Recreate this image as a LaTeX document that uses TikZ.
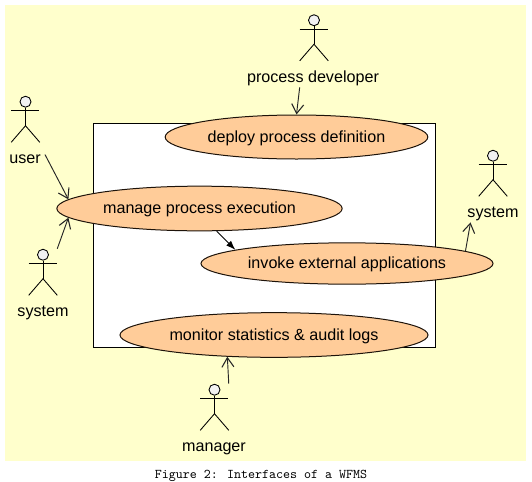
\documentclass[tikz,border=0pt]{standalone}
\usepackage{fontspec}
\setmainfont{Liberation Sans}
\usetikzlibrary{positioning, arrows.meta, shapes.geometric}
\definecolor{paleyellow}{RGB}{255,255,204}
\definecolor{peach}{RGB}{255,204,153}

\begin{document}
\begin{tikzpicture}[
  x=0.75pt, y=-0.75pt,
  usecase/.style={ellipse, draw=black!85!brown, fill=peach, line width=0.75pt, inner sep=0pt,
                  text height=9.5pt, text depth=2pt, font=\fontsize{12.1}{14}\selectfont},
  sys/.style={draw=black, fill=white, line width=0.7pt},
  actorbox/.style={minimum width=21pt, minimum height=34.5pt, inner sep=0pt},
  actorlabel/.style={inner sep=1.5pt, text height=9.5pt, text depth=2pt,
                     font=\fontsize{12.1}{14}\selectfont},
  assoc/.style={-{Straight Barb[length=7pt,width=9pt,line width=0.8pt]}, line width=0.7pt, black!85},
  call/.style={-{Latex[length=7pt,width=5pt]}, line width=0.65pt, black},
  limb/.style={black, line width=0.65pt},
]
  \useasboundingbox (0,0) rectangle (532,482);

  % Background and system boundary
  \fill[paleyellow] (5,5) rectangle (526,461);
  \draw[sys] (93,123) rectangle (435,347);

  % Use cases
  \node[usecase, minimum width=197pt, minimum height=33pt] (deploy) at (296.5,137) {deploy process definition};
  \node[usecase, minimum width=214pt, minimum height=33.5pt] (manage) at (199.5,208.5) {manage process execution};
  \node[usecase, minimum width=219pt, minimum height=31pt] (invoke) at (347,263.5) {invoke external applications};
  \node[usecase, minimum width=231pt, minimum height=33.5pt] (monitor) at (274,335) {monitor statistics \& audit logs};

  % Actors
  \foreach \name/\cx/\cy in {dev/314/37.5, user/25.5/119, sysl/43/272, sysr/493/173, mgr/214.5/407} {
    \node[actorbox] (\name) at (\cx,\cy) {};
    \draw[limb, fill=gray!10] (\name.north) ++(0,6) circle[radius=5.5];
    \draw[limb] (\name.north) ++(0,12) -- ++(0,18) coordinate (hip\name);
    \draw[limb] (\name.north west) ++(0,15) -- ++(28,0);
    \draw[limb] (\name.south west) -- (hip\name) -- (\name.south east);
  }
  \node[actorlabel] (lbldev) at (313,77.5) {process developer};
  \node[actorlabel] (lbluser) at (25,158.5) {user};
  \node[actorlabel] (lblsysl) at (43,311.5) {system};
  \node[actorlabel] (lblsysr) at (493,212.5) {system};
  \node[actorlabel] (lblmgr) at (214,446.5) {manager};

  % Connectors
  \draw[assoc] ([xshift=1.5pt,yshift=3pt]lbluser.east) -- (manage.176.6);
  \draw[assoc] (sysl.north east) -- (manage.184.2);
  \draw[assoc] ([xshift=-10pt]lbldev.south) -- (deploy.north);
  \draw[call] (manage.-53) -- (invoke.173);
  \draw[assoc] (invoke.6.5) -- ([xshift=4pt]lblsysr.south west);
  \draw[assoc] (mgr.north east) -- (monitor.205.5);

  % Caption
  \node[font=\ttfamily\fontsize{10}{12}\selectfont] (caption) at (261,476) {Figure 2: Interfaces of a WFMS};
\end{tikzpicture}
\end{document}
